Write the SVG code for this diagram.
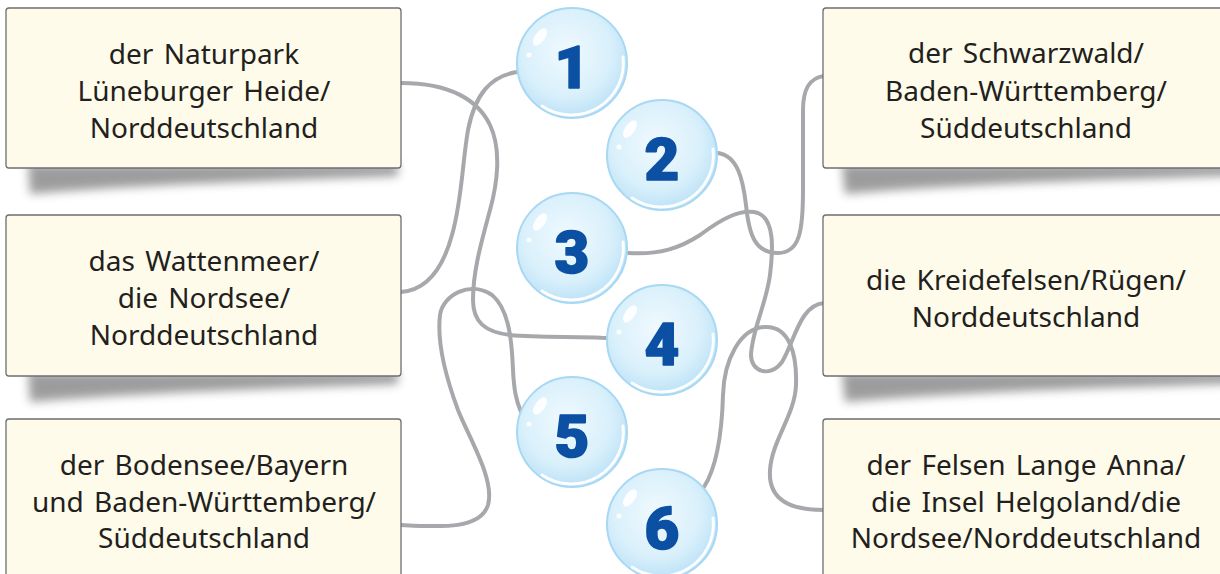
<svg xmlns="http://www.w3.org/2000/svg" xmlns:xlink="http://www.w3.org/1999/xlink" width="1220" height="574" viewBox="0 0 1220 574">
<style>
.box{fill:#fefbea;stroke:#6d6e71;stroke-width:1.3}
.shadow{fill:#4d4d4f;opacity:0.55;filter:url(#blur)}
.t{font-family:"Noto Sans","Open Sans",sans-serif;font-size:28px;fill:#231f20;text-anchor:middle;word-spacing:3px}
.n{font-family:Roboto,"Liberation Sans",sans-serif;font-weight:900;font-size:60px;fill:#0b50a2;stroke:#0b50a2;stroke-width:1.6;stroke-linejoin:round;text-anchor:middle}
.c{fill:none;stroke:#a7a8ab;stroke-width:4;stroke-linecap:round;stroke-linejoin:round}
</style>
<defs>
<radialGradient id="bub" cx="0.45" cy="0.4" r="0.62">
<stop offset="0" stop-color="#f0f9fe"/>
<stop offset="0.65" stop-color="#d9f0fb"/>
<stop offset="1" stop-color="#b9e0f6"/>
</radialGradient>
<filter id="blur" x="-10%" y="-150%" width="120%" height="400%"><feGaussianBlur stdDeviation="5"/></filter>
<g id="bshape">
<circle r="55" fill="url(#bub)" stroke="#a8d8f3" stroke-width="2"/>
<ellipse cx="-32" cy="-26" rx="5" ry="10" transform="rotate(35 -32 -26)" fill="#ffffff" opacity="0.9"/>
<circle cx="-43" cy="-8" r="2.5" fill="#ffffff" opacity="0.9"/>
<path d="M-30,43 A52,52 0 0 0 51,-6" fill="none" stroke="#ffffff" stroke-width="3" stroke-linecap="round" opacity="0.95"/>
</g>
</defs>
<rect width="1220" height="574" fill="#ffffff"/>

<g id="connectors">
<path class="c" d="M401,83 C450,83 478,100 490,125 C502,150 497,185 490,210 C482,240 473,270 473,300 C473,322 485,332 510,335 C540,338 580,336 607,338"/>
<path class="c" d="M517,72 C490,76 475,95 468,130 C462,165 462,200 452,235 C443,268 428,290 401,292"/>
<path class="c" d="M401,525 C440,527 480,530 488,505 C495,480 470,440 458,410 C445,375 437,340 440,315 C443,295 470,280 492,295 C510,310 512,345 513,370 C514,390 516,400 521,412"/>
<path class="c" d="M718,153 C738,156 743,180 746,205 C749,235 755,253 778,253 C800,253 803,230 803,190 L803,110 C803,88 810,78 824,76"/>
<path class="c" d="M628,253 C660,255 680,248 700,235 C720,220 740,208 758,213 C775,220 773,250 770,275 C766,305 752,330 751,355 C751,372 770,378 782,362 C795,340 800,305 824,303"/>
<path class="c" d="M704,487 C718,465 722,430 723,395 C724,360 740,328 765,327 C790,326 797,355 796,385 C795,415 772,440 770,470 C768,500 790,510 824,510"/>
</g>

<g id="box-l1">
<path class="shadow" d="M28,164 L398,164 L398,176 C300,180 150,184 30,194 Z"/>
<rect class="box" x="6" y="8" width="395" height="160" rx="3"/>
<text class="t" x="204" y="64">der Naturpark</text>
<text class="t" x="204" y="101">Lüneburger Heide/</text>
<text class="t" x="204" y="138">Norddeutschland</text>
</g>
<g id="box-l2">
<path class="shadow" d="M28,372 L398,372 L398,384 C300,388 150,392 30,402 Z"/>
<rect class="box" x="6" y="215" width="395" height="161" rx="3"/>
<text class="t" x="204" y="271">das Wattenmeer/</text>
<text class="t" x="204" y="308">die Nordsee/</text>
<text class="t" x="204" y="345">Norddeutschland</text>
</g>
<g id="box-l3">
<rect class="box" x="6" y="419" width="395" height="180" rx="3"/>
<text class="t" x="204" y="475">der Bodensee/Bayern</text>
<text class="t" x="204" y="512">und Baden-Württemberg/</text>
<text class="t" x="204" y="548">Süddeutschland</text>
</g>
<g id="box-r1">
<path class="shadow" d="M842,164 L1230,164 L1230,176 C1100,180 960,184 845,194 Z"/>
<rect class="box" x="823" y="8" width="420" height="160" rx="3"/>
<text class="t" x="1026" y="63">der Schwarzwald/</text>
<text class="t" x="1026" y="101">Baden-Württemberg/</text>
<text class="t" x="1026" y="138">Süddeutschland</text>
</g>
<g id="box-r2">
<path class="shadow" d="M842,372 L1230,372 L1230,384 C1100,388 960,392 845,402 Z"/>
<rect class="box" x="823" y="215" width="420" height="161" rx="3"/>
<text class="t" x="1026" y="290">die Kreidefelsen/Rügen/</text>
<text class="t" x="1026" y="327">Norddeutschland</text>
</g>
<g id="box-r3">
<rect class="box" x="823" y="419" width="420" height="180" rx="3"/>
<text class="t" x="1026" y="475">der Felsen Lange Anna/</text>
<text class="t" x="1026" y="512">die Insel Helgoland/die</text>
<text class="t" x="1026" y="548">Nordsee/Norddeutschland</text>
</g>

<g id="bubble-1" transform="translate(572,63)"><use xlink:href="#bshape"/><text class="n" x="0" y="25">1</text></g>
<g id="bubble-2" transform="translate(662,155)"><use xlink:href="#bshape"/><text class="n" x="0" y="25">2</text></g>
<g id="bubble-3" transform="translate(572,248)"><use xlink:href="#bshape"/><text class="n" x="0" y="25">3</text></g>
<g id="bubble-4" transform="translate(662,340)"><use xlink:href="#bshape"/><text class="n" x="0" y="25">4</text></g>
<g id="bubble-5" transform="translate(572,432)"><use xlink:href="#bshape"/><text class="n" x="0" y="25">5</text></g>
<g id="bubble-6" transform="translate(662,524)"><use xlink:href="#bshape"/><text class="n" x="0" y="25">6</text></g>
</svg>
